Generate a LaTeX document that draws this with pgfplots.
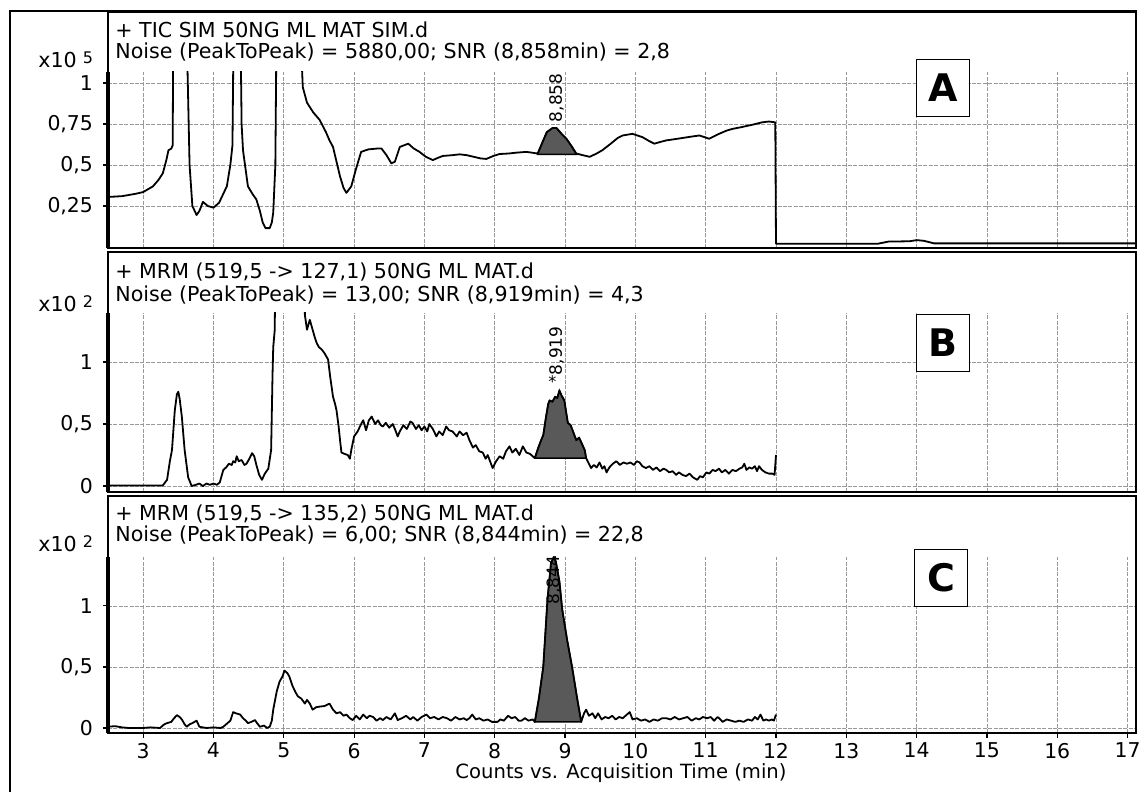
\documentclass[border=0pt]{standalone}
\usepackage{fontspec}
\setmainfont{DejaVu Sans}
\usepackage{pgfplots}
\pgfplotsset{compat=1.18}

\pgfplotsset{
  panel/.style={
    scale only axis,
    width=514pt,
    anchor=south west,
    xmin=2.5, xmax=17.12,
    xtick={3,4,...,17},
    axis line style={draw=none},
    tick pos=left,
    tick align=outside,
    major tick length=2.5pt,
    tick style={black, line width=0.6pt},
    grid=major,
    grid style={black!40, line width=0.35pt, dash pattern=on 2pt off 0.7pt},
    ticklabel style={font=\fontsize{10.2}{11}\selectfont},
    yticklabel style={xshift=-1.5pt},
    xticklabel style={yshift=1pt},
    /pgf/number format/assume math mode=true,
    clip mode=individual,
  },
  trace/.style={black, line width=0.9pt, line join=round},
  peak/.style={fill=black!65, draw=black, line width=0.7pt},
}

\begin{document}
\begin{tikzpicture}[x=0.5pt, y=0.5pt]

% ---- panel A: TIC
\begin{axis}[panel, at={(54pt,272pt)}, height=88pt,
  ymin=-0.006, ymax=1.067,
  ytick={0.25,0.5,0.75,1}, yticklabels={{0,25},{0,5},{0,75},1},
  xticklabels={}, xtick style={draw=none}]
\addplot[peak] coordinates {
  (8.61,0.565) (8.68,0.64) (8.74,0.70) (8.82,0.725) (8.88,0.725)
  (8.95,0.69) (9.02,0.66) (9.10,0.61) (9.16,0.565)} -- cycle;
\addplot[trace] coordinates {
  (2.50,0.305) (2.70,0.31) (2.90,0.325) (3.00,0.335) (3.14,0.37) (3.22,0.41)
  (3.28,0.45) (3.33,0.53) (3.36,0.59) (3.40,0.60) (3.42,0.62) (3.43,1.5)
  (3.61,1.5) (3.66,0.5) (3.70,0.25) (3.76,0.195) (3.80,0.22) (3.85,0.275)
  (3.92,0.25) (4.00,0.24) (4.08,0.27) (4.19,0.37) (4.24,0.50) (4.27,0.62)
  (4.29,1.5) (4.38,1.5) (4.40,0.75) (4.42,0.59) (4.49,0.37) (4.56,0.32)
  (4.61,0.29) (4.66,0.22) (4.70,0.15) (4.74,0.115) (4.80,0.115) (4.83,0.15)
  (4.85,0.21) (4.88,0.5) (4.90,1.5) (5.22,1.5) (5.27,0.975) (5.33,0.88)
  (5.42,0.82) (5.51,0.775) (5.60,0.70) (5.65,0.65) (5.70,0.61) (5.75,0.52)
  (5.80,0.43) (5.85,0.36) (5.89,0.33) (5.96,0.37) (6.03,0.48) (6.10,0.58)
  (6.20,0.595) (6.32,0.60) (6.39,0.60) (6.46,0.56) (6.53,0.51) (6.58,0.52)
  (6.65,0.61) (6.77,0.63) (6.85,0.60) (6.93,0.58) (7.02,0.55) (7.12,0.53)
  (7.20,0.545) (7.26,0.555) (7.40,0.56) (7.50,0.565) (7.60,0.56) (7.70,0.55)
  (7.80,0.54) (7.88,0.537) (7.98,0.555) (8.07,0.567) (8.20,0.57) (8.30,0.575)
  (8.45,0.58) (8.61,0.57) (8.68,0.64) (8.74,0.70) (8.82,0.725) (8.88,0.725)
  (8.95,0.69) (9.02,0.66) (9.10,0.61) (9.16,0.57) (9.25,0.56) (9.35,0.55)
  (9.45,0.57) (9.53,0.59) (9.65,0.63) (9.75,0.665) (9.82,0.68) (9.96,0.69)
  (10.10,0.67) (10.20,0.645) (10.27,0.63) (10.35,0.64) (10.44,0.65)
  (10.60,0.66) (10.75,0.67) (10.91,0.68) (11.05,0.66) (11.19,0.69)
  (11.30,0.71) (11.38,0.72) (11.50,0.73) (11.66,0.745) (11.80,0.76)
  (11.90,0.765) (11.99,0.76) (12.00,0.02) (12.50,0.02) (13.00,0.02)
  (13.45,0.02) (13.60,0.033) (13.90,0.035) (14.00,0.042) (14.10,0.038)
  (14.25,0.022) (15.00,0.022) (16.00,0.022) (17.12,0.022)};
\node[rotate=90, font=\fontsize{8.5}{9}\selectfont] at (axis cs:8.88,0.91) {8,858};
\draw[line width=1.6pt] (rel axis cs:0,1) -- (rel axis cs:0,0);
\end{axis}

% ---- panel B: MRM 519,5 -> 127,1
\begin{axis}[panel, at={(54pt,150pt)}, height=89.5pt,
  ymin=-0.048, ymax=1.395,
  ytick={0,0.5,1}, yticklabels={0,{0,5},1},
  xticklabels={}, xtick style={draw=none}]
\addplot[peak] coordinates {
  (8.57,0.225) (8.62,0.31) (8.66,0.37) (8.69,0.41) (8.73,0.56) (8.76,0.66)
  (8.78,0.69) (8.82,0.68) (8.86,0.72) (8.89,0.71) (8.92,0.77) (8.95,0.73)
  (8.99,0.69) (9.02,0.58) (9.04,0.51) (9.08,0.49) (9.12,0.43) (9.16,0.37)
  (9.20,0.39) (9.24,0.34) (9.28,0.29) (9.30,0.225)} -- cycle;
\addplot[trace] coordinates {
  (2.50,0.005) (3.00,0.005) (3.28,0.005) (3.34,0.05) (3.38,0.20) (3.41,0.29)
  (3.45,0.61) (3.48,0.74) (3.50,0.76) (3.52,0.70) (3.55,0.56) (3.59,0.29)
  (3.64,0.07) (3.69,0.0) (3.75,0.01) (3.80,0.02) (3.85,0.0) (3.90,0.02)
  (3.95,0.01) (4.00,0.02) (4.05,0.01) (4.09,0.03) (4.14,0.13) (4.18,0.15)
  (4.22,0.18) (4.26,0.17) (4.28,0.2) (4.31,0.19) (4.33,0.24) (4.36,0.20)
  (4.40,0.21) (4.44,0.17) (4.47,0.18) (4.51,0.22) (4.55,0.265) (4.58,0.24)
  (4.61,0.17) (4.65,0.09) (4.69,0.05) (4.73,0.10) (4.78,0.14) (4.82,0.29)
  (4.84,0.9) (4.85,1.12) (4.87,1.25) (4.89,2) (5.29,2) (5.30,1.38)
  (5.33,1.26) (5.37,1.34) (5.41,1.26) (5.44,1.20) (5.47,1.15) (5.50,1.12)
  (5.54,1.10) (5.58,1.07) (5.63,1.02) (5.66,0.88) (5.70,0.72) (5.73,0.66)
  (5.75,0.61) (5.78,0.48) (5.80,0.37) (5.82,0.27) (5.86,0.26) (5.91,0.25)
  (5.94,0.22) (5.96,0.29) (6.00,0.40) (6.05,0.44) (6.10,0.50) (6.13,0.53)
  (6.17,0.45) (6.21,0.53) (6.25,0.56) (6.30,0.50) (6.34,0.53) (6.38,0.49)
  (6.41,0.48) (6.45,0.51) (6.50,0.47) (6.55,0.50) (6.58,0.46) (6.62,0.40)
  (6.65,0.44) (6.70,0.49) (6.75,0.46) (6.80,0.52) (6.83,0.51) (6.88,0.46)
  (6.92,0.49) (6.96,0.45) (7.00,0.48) (7.04,0.44) (7.07,0.50) (7.12,0.46)
  (7.17,0.40) (7.21,0.44) (7.26,0.41) (7.31,0.48) (7.35,0.45) (7.40,0.44)
  (7.46,0.40) (7.50,0.44) (7.55,0.41) (7.60,0.43) (7.64,0.37) (7.69,0.31)
  (7.73,0.33) (7.78,0.28) (7.83,0.27) (7.87,0.22) (7.90,0.25) (7.94,0.19)
  (7.97,0.145) (8.02,0.20) (8.07,0.24) (8.12,0.22) (8.16,0.28) (8.21,0.32)
  (8.25,0.27) (8.30,0.30) (8.35,0.25) (8.40,0.32) (8.45,0.27) (8.50,0.26)
  (8.54,0.24) (8.57,0.225) (8.62,0.31) (8.66,0.37) (8.69,0.41) (8.73,0.56)
  (8.76,0.66) (8.78,0.69) (8.82,0.68) (8.86,0.72) (8.89,0.71) (8.92,0.77)
  (8.95,0.73) (8.99,0.69) (9.02,0.58) (9.04,0.51) (9.08,0.49) (9.12,0.43)
  (9.16,0.37) (9.20,0.39) (9.24,0.34) (9.28,0.29) (9.30,0.225) (9.33,0.19)
  (9.37,0.145) (9.41,0.17) (9.45,0.15) (9.49,0.19) (9.53,0.14) (9.56,0.16)
  (9.59,0.11) (9.63,0.15) (9.68,0.18) (9.73,0.20) (9.78,0.17) (9.83,0.19)
  (9.88,0.18) (9.93,0.19) (9.98,0.17) (10.02,0.20) (10.06,0.19) (10.10,0.16)
  (10.15,0.145) (10.20,0.16) (10.25,0.13) (10.30,0.15) (10.35,0.12)
  (10.40,0.14) (10.44,0.13) (10.48,0.11) (10.53,0.12) (10.58,0.09)
  (10.62,0.11) (10.67,0.09) (10.72,0.08) (10.77,0.10) (10.82,0.07)
  (10.85,0.06) (10.88,0.05) (10.92,0.08) (10.96,0.07) (11.01,0.11)
  (11.05,0.10) (11.10,0.13) (11.14,0.12) (11.19,0.14) (11.23,0.11)
  (11.28,0.13) (11.33,0.10) (11.38,0.13) (11.43,0.12) (11.48,0.14)
  (11.52,0.15) (11.55,0.18) (11.58,0.13) (11.62,0.15) (11.66,0.14)
  (11.70,0.16) (11.73,0.12) (11.76,0.16) (11.80,0.13) (11.85,0.11)
  (11.90,0.10) (11.95,0.10) (11.98,0.09) (12.00,0.25)};
\node[rotate=90, font=\fontsize{8.5}{9}\selectfont] at (axis cs:8.88,1.09) {8,919};
\node[font=\fontsize{8}{9}\selectfont] at (axis cs:8.82,0.84) {*};
\draw[line width=1.6pt] (rel axis cs:0,1) -- (rel axis cs:0,0);
\end{axis}

% ---- panel C: MRM 519,5 -> 135,2
\begin{axis}[panel, at={(54pt,29.5pt)}, height=88pt,
  ymin=-0.041, ymax=1.40,
  ytick={0,0.5,1}, yticklabels={0,{0,5},1}]
\addplot[peak] coordinates {
  (8.57,0.05) (8.63,0.25) (8.69,0.50) (8.75,1.05) (8.80,1.35) (8.84,1.40)
  (8.87,1.36) (8.92,1.20) (8.96,0.97) (9.03,0.72) (9.10,0.50) (9.17,0.25)
  (9.23,0.05)} -- cycle;
\addplot[trace] coordinates {
  (2.50,0.01) (2.60,0.015) (2.70,0.005) (2.80,0.0) (3.00,0.0) (3.10,0.005)
  (3.24,0.0) (3.30,0.03) (3.34,0.04) (3.40,0.05) (3.44,0.08) (3.48,0.105)
  (3.52,0.09) (3.55,0.07) (3.59,0.03) (3.62,0.01) (3.66,0.03) (3.70,0.04)
  (3.76,0.06) (3.80,0.01) (3.90,0.0) (4.00,0.005) (4.10,0.0) (4.14,0.01)
  (4.20,0.04) (4.24,0.06) (4.28,0.13) (4.32,0.12) (4.38,0.11) (4.42,0.08)
  (4.46,0.06) (4.49,0.04) (4.54,0.05) (4.59,0.065) (4.62,0.04) (4.66,0.01)
  (4.72,0.02) (4.76,0.0) (4.80,0.01) (4.83,0.06) (4.85,0.15) (4.90,0.30)
  (4.94,0.38) (4.98,0.42) (5.01,0.47) (5.05,0.45) (5.08,0.42) (5.12,0.35)
  (5.16,0.30) (5.20,0.26) (5.25,0.24) (5.30,0.20) (5.33,0.23) (5.37,0.20)
  (5.41,0.15) (5.46,0.17) (5.51,0.175) (5.58,0.18) (5.65,0.20) (5.70,0.15)
  (5.75,0.12) (5.80,0.13) (5.85,0.10) (5.89,0.11) (5.94,0.08) (5.98,0.065)
  (6.03,0.10) (6.08,0.07) (6.13,0.11) (6.18,0.08) (6.22,0.10) (6.27,0.09)
  (6.32,0.06) (6.37,0.08) (6.41,0.065) (6.46,0.09) (6.52,0.07) (6.58,0.12)
  (6.62,0.065) (6.68,0.08) (6.74,0.10) (6.80,0.07) (6.84,0.09) (6.90,0.06)
  (6.96,0.09) (7.03,0.11) (7.08,0.08) (7.14,0.09) (7.20,0.07) (7.26,0.09)
  (7.32,0.08) (7.38,0.06) (7.44,0.09) (7.50,0.07) (7.56,0.08) (7.60,0.065)
  (7.64,0.08) (7.68,0.11) (7.73,0.07) (7.78,0.08) (7.84,0.06) (7.90,0.07)
  (7.96,0.05) (8.04,0.05) (8.08,0.07) (8.13,0.06) (8.19,0.10) (8.24,0.08)
  (8.29,0.09) (8.34,0.06) (8.38,0.06) (8.43,0.08) (8.48,0.06) (8.54,0.07)
  (8.57,0.05) (8.63,0.25) (8.69,0.50) (8.75,1.05) (8.80,1.35) (8.84,1.40)
  (8.87,1.36) (8.92,1.20) (8.96,0.97) (9.03,0.72) (9.10,0.50) (9.17,0.25)
  (9.23,0.05) (9.27,0.12) (9.30,0.15) (9.34,0.10) (9.39,0.12) (9.43,0.08)
  (9.47,0.12) (9.52,0.07) (9.57,0.09) (9.62,0.08) (9.67,0.10) (9.72,0.07)
  (9.77,0.09) (9.82,0.08) (9.88,0.11) (9.92,0.13) (9.96,0.07) (10.02,0.08)
  (10.08,0.06) (10.14,0.07) (10.20,0.05) (10.26,0.07) (10.32,0.06)
  (10.38,0.08) (10.44,0.08) (10.50,0.07) (10.56,0.09) (10.62,0.07)
  (10.68,0.08) (10.74,0.09) (10.80,0.06) (10.86,0.08) (10.91,0.07)
  (10.96,0.09) (11.02,0.08) (11.07,0.09) (11.12,0.06) (11.17,0.09)
  (11.21,0.07) (11.24,0.05) (11.30,0.07) (11.36,0.06) (11.42,0.05)
  (11.48,0.06) (11.54,0.05) (11.60,0.07) (11.66,0.06) (11.70,0.09)
  (11.74,0.07) (11.78,0.11) (11.82,0.06) (11.86,0.07) (11.90,0.06)
  (11.94,0.07) (11.97,0.06) (12.00,0.11)};
\node[rotate=90, font=\fontsize{8.5}{9}\selectfont] at (axis cs:8.84,1.21) {8,844};
\draw[line width=1.6pt] (rel axis cs:0,1) -- (rel axis cs:0,0);
\end{axis}

% ---- frames
\draw[line width=1pt] (10,-5) -- (10,781) -- (1137,781);
\draw[line width=1.3pt] (108,544) rectangle (1136,780);
\draw[line width=1.3pt] (108,300) rectangle (1136,540);
\draw[line width=1.3pt] (108,59) rectangle (1136,296);

% ---- headers
\begin{scope}[every node/.style={anchor=base west, inner sep=0pt, font=\fontsize{10.3}{11}\selectfont}]
\node at (115,754) {+ TIC SIM 50NG ML MAT SIM.d};
\node at (115,733) {Noise (PeakToPeak) = 5880,00; SNR (8,858min) = 2,8};
\node at (115,513) {+ MRM (519,5 -> 127,1) 50NG ML MAT.d};
\node at (115,490) {Noise (PeakToPeak) = 13,00; SNR (8,919min) = 4,3};
\node at (115,271) {+ MRM (519,5 -> 135,2) 50NG ML MAT.d};
\node at (115,250) {Noise (PeakToPeak) = 6,00; SNR (8,844min) = 22,8};
\node at (38,724) {x10\hspace{3pt}\raisebox{2pt}{\fontsize{8}{9}\selectfont 5}};
\node at (38,480) {x10\hspace{3pt}\raisebox{2pt}{\fontsize{8}{9}\selectfont 2}};
\node at (38,240) {x10\hspace{3pt}\raisebox{2pt}{\fontsize{8}{9}\selectfont 2}};
\end{scope}

% ---- panel letters
\begin{scope}[every node/.style={draw, fill=white, line width=0.9pt, minimum width=26.5pt, minimum height=28.5pt, inner sep=0pt, font=\bfseries\fontsize{19}{20}\selectfont}]
\node at (943,704) {A};
\node at (943,449) {B};
\node at (941,214) {C};
\end{scope}

\node[anchor=base, inner sep=0pt, font=\fontsize{9.8}{11}\selectfont] at (621,13) {Counts vs. Acquisition Time (min)};

\pgfresetboundingbox
\useasboundingbox (0,0) rectangle (1146,792);
\end{tikzpicture}
\end{document}
